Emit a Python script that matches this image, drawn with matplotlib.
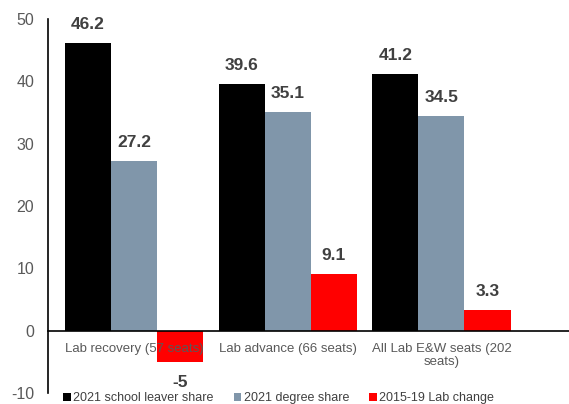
import matplotlib.pyplot as plt
import numpy as np

plt.rcParams['font.family'] = ['Liberation Sans', 'DejaVu Sans']
plt.rcParams['axes.unicode_minus'] = False

categories = ["Lab recovery (57 seats)", "Lab advance (66 seats)", "All Lab E&W seats (202\nseats)"]
series_names = ["2021 school leaver share", "2021 degree share", "2015-19 Lab change"]
school_leaver = [46.2, 39.6, 41.2]
degree = [27.2, 35.1, 34.5]
lab_change = [-5, 9.1, 3.3]
colors = ["#000000", "#8096aa", "#ff0000"]

fig = plt.figure(figsize=(5.69, 4.04), dpi=100)
ax = fig.add_axes([0.0844, 0.027, 0.9156, 0.926])

x = np.arange(len(categories))
width = 0.3
all_series = [school_leaver, degree, lab_change]
for i, (vals, name, col) in enumerate(zip(all_series, series_names, colors)):
    bars = ax.bar(x + (i - 1) * width, vals, width, color=col, label=name)
    for b, v in zip(bars, vals):
        if v >= 0:
            ax.annotate(f"{v:g}", (b.get_x() + b.get_width() / 2, v),
                        xytext=(0, 8), textcoords="offset points",
                        ha="center", va="bottom", fontsize=12.5,
                        fontweight="bold", color="#404040")
        else:
            ax.annotate(f"{v:g}", (b.get_x() + b.get_width() / 2, v),
                        xytext=(0, -15), textcoords="offset points",
                        ha="center", va="center", fontsize=12.5,
                        fontweight="bold", color="#404040")

ax.set_xlim(-0.56, 2.83)
ax.set_ylim(-10, 50)
ax.set_yticks([-10, 0, 10, 20, 30, 40, 50])
ax.tick_params(axis="y", length=0, labelsize=11.5, labelcolor="#595959", pad=10)
ax.tick_params(axis="x", length=0)
ax.set_xticks([])
for s in ["top", "right", "bottom"]:
    ax.spines[s].set_visible(False)
ax.spines["left"].set_linewidth(1.2)
ax.axhline(0, xmax=1.05, color="black", linewidth=1.2, clip_on=False)

for xi, cat in zip(x, categories):
    ax.text(xi, -1.9, cat, ha="center", va="top", fontsize=9.5, color="#595959")

fig.legend(loc="center", bbox_to_anchor=(0.49, 6 / 404), ncol=3, frameon=False,
           fontsize=9, handlelength=0.6, handleheight=0.6, handletextpad=0.2,
           columnspacing=1.6, labelcolor="#404040")

fig.savefig("out.png", dpi=100)
